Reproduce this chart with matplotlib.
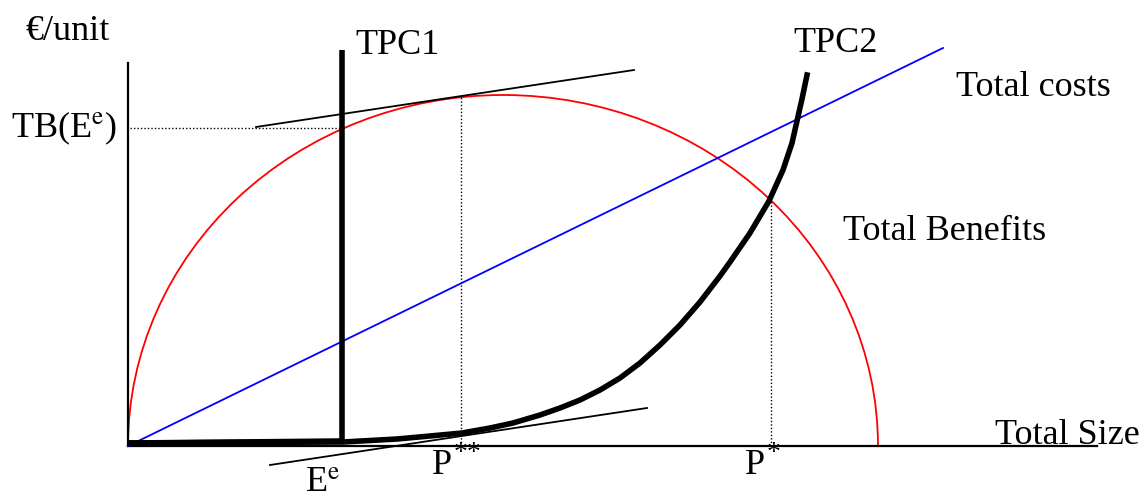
import matplotlib.pyplot as plt
from matplotlib.patches import Arc

plt.rcParams['font.family'] = ['Liberation Serif', 'DejaVu Serif']
plt.rcParams['mathtext.fontset'] = 'stix'

# total costs (straight line from the origin)
tc_x = [0, 815]
tc_y = [0, 398]

# total benefits (half ellipse)
tb_center = (375, 0)
tb_width = 750
tb_height = 702

# TPC1: vertical
tpc1_x = [0, 214, 214]
tpc1_y = [3, 5, 396]

# TPC2: rising curve
tpc2_x = [2, 215, 269, 302, 334, 362, 385, 412, 432, 452, 472, 492, 512, 532,
          552, 572, 592, 602, 622, 641, 655, 664, 669, 674, 679]
tpc2_y = [3, 4, 7, 10, 13, 18, 23, 31, 38, 46, 56, 68, 83, 101,
          121, 144, 170, 184, 213, 245, 276, 303, 325, 347, 371]

# tangent lines
tan_hi_x = [128, 506]
tan_hi_y = [319, 376]
tan_lo_x = [142, 519]
tan_lo_y = [-19, 38]

# reference levels
tb_ee = 318
e_e = 214
p2 = 333
p2_top = 351
p1 = 643
p1_top = 246

x_end = 969
y_end = 383

fig = plt.figure(figsize=(11.48, 4.97), dpi=100)
ax = fig.add_axes([0, 0, 1, 1])
ax.set_xlim(-128, 1020)
ax.set_ylim(-51, 446)
ax.axis('off')

# axes
ax.plot([0, x_end], [0, 0], color='k', lw=1.6)
ax.plot([0, 0], [0, y_end], color='k', lw=1.6)

# dotted guides
ax.plot([2, e_e], [tb_ee, tb_ee], color='k', lw=1, ls=(0, (1, 1.5)))
ax.plot([p2, p2], [0, p2_top], color='k', lw=1, ls=(0, (1, 1.5)))
ax.plot([p1, p1], [0, p1_top], color='k', lw=1, ls=(0, (1, 1.5)))

ax.add_patch(Arc(tb_center, tb_width, tb_height, theta1=0, theta2=180, color='red', lw=1.3))
ax.plot(tc_x, tc_y, color='blue', lw=1.3)

ax.plot(tan_hi_x, tan_hi_y, color='k', lw=1.3)
ax.plot(tan_lo_x, tan_lo_y, color='k', lw=1.3)

ax.plot(tpc1_x, tpc1_y, color='k', lw=4, solid_capstyle='butt')
ax.plot(tpc2_x, tpc2_y, color='k', lw=4, solid_joinstyle='round')

fs = 26
ax.text(-103, 414, '€/unit', fontsize=fs, va='center')
ax.text(227, 400, 'TPC1', fontsize=fs, va='center')
ax.text(665, 403, 'TPC2', fontsize=fs, va='center')
ax.text(-117, 318, 'TB(E$^\\mathrm{e}$)', fontsize=fs, va='center')
ax.text(828, 358, 'Total costs', fontsize=fs, va='center')
ax.text(715, 215, 'Total Benefits', fontsize=fs, va='center')
ax.text(867, 11, 'Total Size', fontsize=fs, va='center')
ax.text(177, -37, 'E$^\\mathrm{e}$', fontsize=fs, va='center')
ax.text(304, -19, 'P', fontsize=fs, va='center')
ax.text(326, -8, '**', fontsize=20, va='center')
ax.text(617, -19, 'P', fontsize=fs, va='center')
ax.text(639, -8, '*', fontsize=20, va='center')

plt.savefig('out.png', dpi=100)
